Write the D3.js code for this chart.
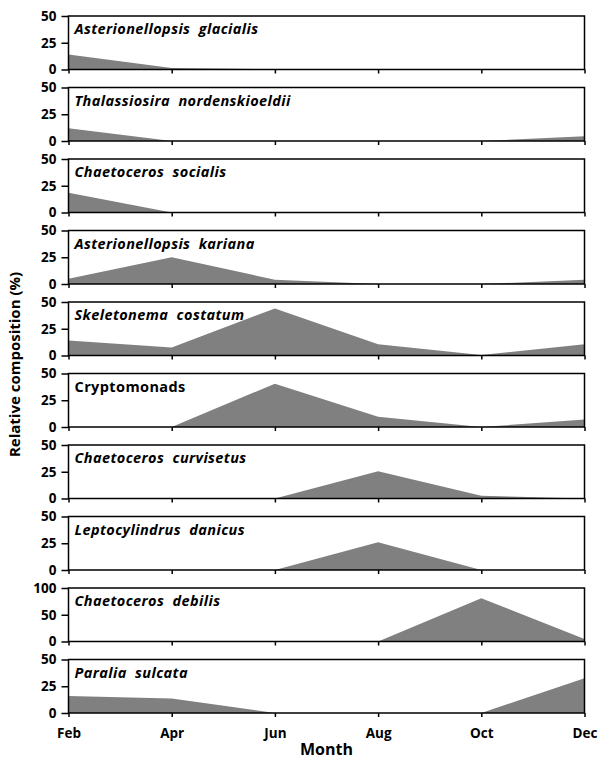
<!DOCTYPE html>
<html>
<head>
<meta charset="utf-8">
<script src="https://cdn.jsdelivr.net/npm/d3@7"></script>
<style>
  body { margin: 0; background: #fff; }
  svg text { font-family: "Open Sans", Lato, sans-serif; font-weight: 700; fill: #000; }
</style>
</head>
<body>
<div id="chart"></div>
<script>
// ######### DATA ###########
var months = ["Feb", "Apr", "Jun", "Aug", "Oct", "Dec"];
var species = [
    "Asterionellopsis  glacialis",
    "Thalassiosira  nordenskioeldii",
    "Chaetoceros  socialis",
    "Asterionellopsis  kariana",
    "Skeletonema  costatum",
    "Cryptomonads",
    "Chaetoceros  curvisetus",
    "Leptocylindrus  danicus",
    "Chaetoceros  debilis",
    "Paralia  sulcata"
];
var italicName = [true, true, true, true, true, false, true, true, true, true];
var yMax = [50, 50, 50, 50, 50, 50, 50, 50, 100, 50];
var yTicks = [[0, 25, 50], [0, 25, 50], [0, 25, 50], [0, 25, 50], [0, 25, 50],
              [0, 25, 50], [0, 25, 50], [0, 25, 50], [0, 50, 100], [0, 25, 50]];

var glacialis       = [14, 1.5, 0.3, 0, 0, 0];
var nordenskioeldii = [12, 0, 0, 0, 0, 4.5];
var socialis        = [18.5, 0, 0, 0, 0, 0];
var kariana         = [5, 25, 4, 0, 0, 4];
var costatum        = [14, 7.5, 44, 10.5, 0.5, 10.5];
var cryptomonads    = [0, 0, 40.5, 9.5, 0, 7];
var curvisetus      = [0, 0, 0, 25.5, 2.5, 0];
var danicus         = [0, 0, 0, 26, 0, 0];
var debilis         = [0, 0, 0, 0, 81, 4.5];
var sulcata         = [16, 13.5, 0, 0, 0, 32.5];

var series = [glacialis, nordenskioeldii, socialis, kariana, costatum,
              cryptomonads, curvisetus, danicus, debilis, sulcata];

// ######### LAYOUT ###########
var width = 598, height = 761;
var left = 68.5, right = 584.5;
var firstTop = 16, pitch = 71.5, panelH = 53.5;

var svg = d3.select("#chart").append("svg")
    .attr("width", width)
    .attr("height", height);

var x = d3.scalePoint().domain(months).range([left, right]);

series.forEach(function(values, i) {
    var top = firstTop + pitch * i;
    var y = d3.scaleLinear().domain([0, yMax[i]]).range([top + panelH, top]);
    var g = svg.append("g");

    var area = d3.area()
        .x(function(d, j) { return x(months[j]); })
        .y0(y(0))
        .y1(function(d) { return y(d); });

    g.append("path")
        .datum(values)
        .attr("d", area)
        .attr("fill", "#808080");

    // frame
    g.append("rect")
        .attr("x", left).attr("y", top)
        .attr("width", right - left).attr("height", panelH)
        .attr("fill", "none")
        .attr("stroke", "#000")
        .attr("stroke-width", 1.5);

    var yAxis = d3.axisLeft(y).tickValues(yTicks[i]).tickSize(7).tickPadding(5);
    var ya = g.append("g").attr("transform", "translate(" + left + ",0)").call(yAxis);
    ya.select(".domain").remove();
    ya.selectAll("line").attr("stroke-width", 1.5);
    ya.selectAll("text").style("font-size", "13.5px").attr("font-family", null);

    var xAxis = d3.axisBottom(x).tickSize(4).tickPadding(11);
    var xa = g.append("g").attr("transform", "translate(0," + (top + panelH) + ")").call(xAxis);
    xa.select(".domain").remove();
    xa.selectAll("line").attr("stroke-width", 1.5);
    if (i === series.length - 1) {
        xa.selectAll("text").style("font-size", "13.5px").attr("font-family", null);
    } else {
        xa.selectAll("text").remove();
    }

    g.append("text")
        .attr("x", left + 6)
        .attr("y", top + 18)
        .style("font-size", "14.5px")
        .style("letter-spacing", "0.4px")
        .style("font-style", italicName[i] ? "italic" : "normal")
        .style("white-space", "pre")
        .text(species[i]);
});

// axis titles
svg.append("text")
    .attr("transform", "translate(20," + (firstTop + pitch * 4.5 + panelH / 2) + ") rotate(-90)")
    .attr("text-anchor", "middle")
    .style("font-size", "15px")
    .text("Relative composition (%)");

svg.append("text")
    .attr("x", (left + right) / 2)
    .attr("y", 755)
    .attr("text-anchor", "middle")
    .style("font-size", "16px")
    .text("Month");
</script>
</body>
</html>
